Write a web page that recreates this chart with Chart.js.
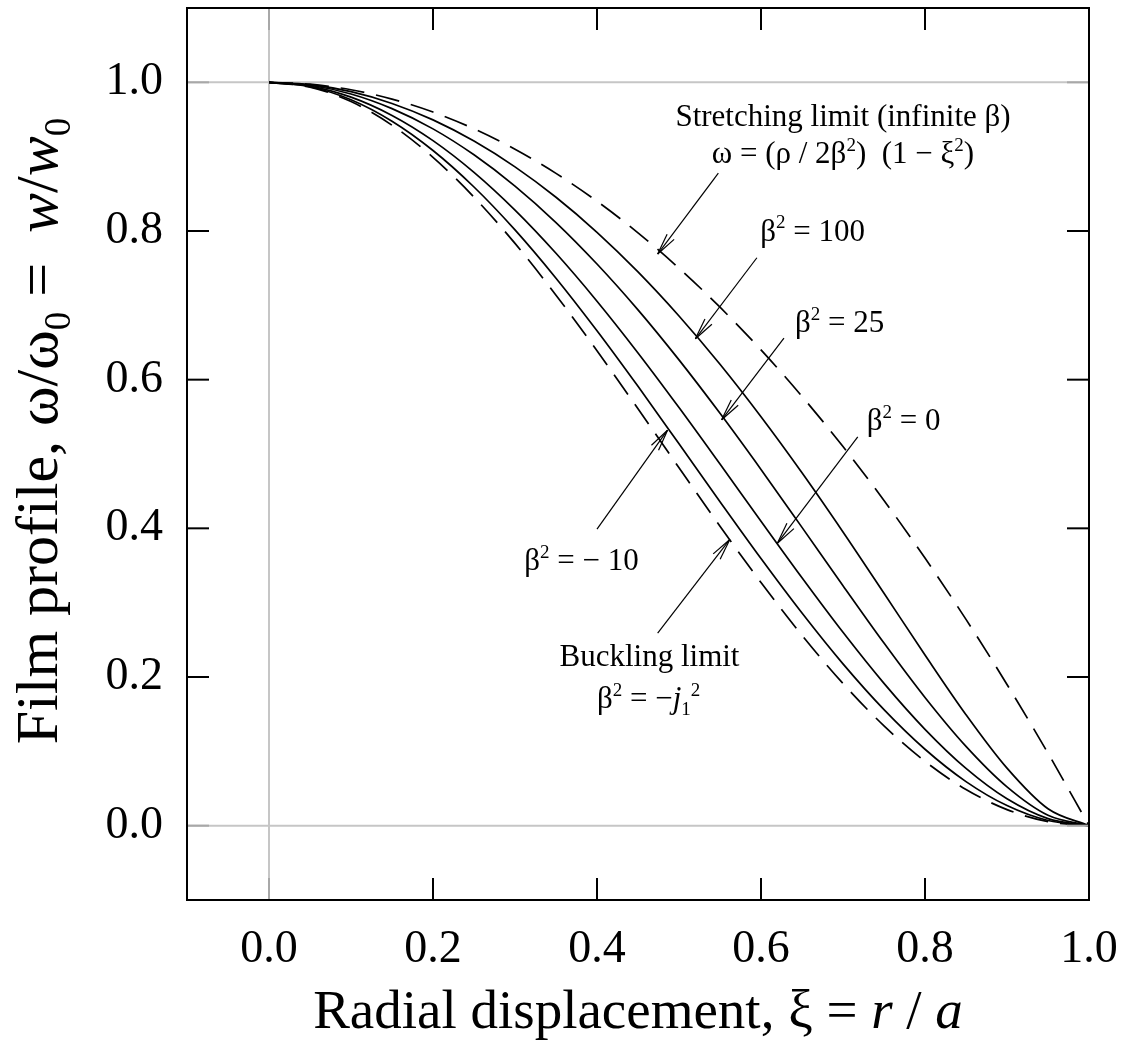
<!DOCTYPE html>
<html>
<head>
<meta charset="utf-8">
<script src="https://cdn.jsdelivr.net/npm/chart.js@4.4.1/dist/chart.umd.min.js"></script>
<style>
  html, body { margin: 0; padding: 0; background: #fff; }
  #wrap { width: 1131px; height: 1044px; position: relative; }
</style>
</head>
<body>
<div id="wrap"><canvas id="profileChart"></canvas></div>
<script>
// radial position xi = r/a
const xi = [0, 0.05, 0.1, 0.15, 0.2, 0.25, 0.3, 0.35, 0.4, 0.45, 0.5,
            0.55, 0.6, 0.65, 0.7, 0.75, 0.8, 0.85, 0.9, 0.95, 1.0];

// normalised film profiles w/w0
const stretching = [1, 0.9975, 0.99, 0.9775, 0.96, 0.9375, 0.91, 0.8775, 0.84, 0.7975, 0.75,
                    0.6975, 0.64, 0.5775, 0.51, 0.4375, 0.36, 0.2775, 0.19, 0.0975, 0];
const beta100 = [1, 0.9968, 0.9874, 0.9716, 0.9495, 0.9210, 0.8863, 0.8454, 0.7983, 0.7450, 0.6857,
                 0.6207, 0.5501, 0.4747, 0.3951, 0.3126, 0.2296, 0.1493, 0.0774, 0.0228, 0];
const beta25 = [1, 0.9961, 0.9843, 0.9646, 0.9374, 0.9025, 0.8604, 0.8114, 0.7556, 0.6939, 0.6266,
                0.5547, 0.4792, 0.4013, 0.3228, 0.2456, 0.1724, 0.1066, 0.0521, 0.0139, 0];
const beta0 = [1, 0.9950, 0.9801, 0.9555, 0.9216, 0.8789, 0.8281, 0.7700, 0.7056, 0.6360, 0.5625,
               0.4865, 0.4096, 0.3335, 0.2601, 0.1914, 0.1296, 0.0770, 0.0361, 0.0095, 0];
const betaMinus10 = [1, 0.9941, 0.9766, 0.9477, 0.9083, 0.8592, 0.8015, 0.7365, 0.6658, 0.5910, 0.5137,
                     0.4359, 0.3594, 0.2861, 0.2177, 0.1561, 0.1028, 0.0593, 0.0270, 0.0069, 0];
const buckling = [1, 0.9935, 0.9741, 0.9423, 0.8991, 0.8456, 0.7833, 0.7137, 0.6389, 0.5608, 0.4815,
                  0.4029, 0.3271, 0.2560, 0.1912, 0.1343, 0.0865, 0.0487, 0.0216, 0.0054, 0];

const xTicks = [0, 0.2, 0.4, 0.6, 0.8, 1.0];
const yTicks = [0, 0.2, 0.4, 0.6, 0.8, 1.0];

const FONT = '"Liberation Serif", "Times New Roman", serif';
Chart.defaults.font.family = FONT;
Chart.defaults.color = '#000';

const pts = ys => xi.map((x, i) => ({ x: x, y: ys[i] }));

function curve(label, ys, dashed) {
  return {
    label: label,
    data: pts(ys),
    borderColor: '#000',
    borderWidth: 1.7,
    borderDash: dashed ? [24, 12] : [],
    pointRadius: 0,
    fill: false,
    cubicInterpolationMode: 'monotone'
  };
}

// --- text with sub/superscripts and italics ---
function runFont(r, size) {
  const s = (r.sup || r.sub) ? Math.round(size * 0.62) : size;
  return (r.italic ? 'italic ' : '') + s + 'px ' + FONT;
}
function drawRich(ctx, runs, x, y, size, align) {
  let total = 0;
  runs.forEach(r => { ctx.font = runFont(r, size); total += ctx.measureText(r.t).width; });
  let cx = align === 'center' ? x - total / 2 : x;
  ctx.textAlign = 'left';
  ctx.textBaseline = 'alphabetic';
  runs.forEach(r => {
    ctx.font = runFont(r, size);
    const dy = r.sup ? -size * 0.4 : (r.sub ? size * 0.22 : 0);
    ctx.fillText(r.t, cx, y + dy);
    cx += ctx.measureText(r.t).width;
  });
}

function seg(ctx, x1, y1, x2, y2) {
  ctx.beginPath(); ctx.moveTo(x1, y1); ctx.lineTo(x2, y2); ctx.stroke();
}

function arrow(ctx, x1, y1, x2, y2) {
  seg(ctx, x1, y1, x2, y2);
  const ang = Math.atan2(y2 - y1, x2 - x1);
  const len = 22, spread = 0.2;
  seg(ctx, x2, y2, x2 - len * Math.cos(ang - spread), y2 - len * Math.sin(ang - spread));
  seg(ctx, x2, y2, x2 - len * Math.cos(ang + spread), y2 - len * Math.sin(ang + spread));
}

// labels on the curves, in data units
const notes = [
  { x: 0.700, y: 0.941, runs: [{ t: 'Stretching limit (infinite β)' }] },
  { x: 0.700, y: 0.891, runs: [{ t: 'ω = (ρ / 2β' }, { t: '2', sup: true }, { t: ')  (1 − ξ' }, { t: '2', sup: true }, { t: ')' }] },
  { x: 0.663, y: 0.787, runs: [{ t: 'β' }, { t: '2', sup: true }, { t: ' = 100' }] },
  { x: 0.696, y: 0.664, runs: [{ t: 'β' }, { t: '2', sup: true }, { t: ' = 25' }] },
  { x: 0.774, y: 0.532, runs: [{ t: 'β' }, { t: '2', sup: true }, { t: ' = 0' }] },
  { x: 0.381, y: 0.344, runs: [{ t: 'β' }, { t: '2', sup: true }, { t: ' = − 10' }] },
  { x: 0.464, y: 0.215, runs: [{ t: 'Buckling limit' }] },
  { x: 0.463, y: 0.158, runs: [{ t: 'β' }, { t: '2', sup: true }, { t: ' = −' }, { t: 'j', italic: true }, { t: '1', sub: true }, { t: '2', sup: true }] }
];
const arrows = [
  [0.548, 0.878, 0.474, 0.769],
  [0.595, 0.764, 0.520, 0.655],
  [0.628, 0.656, 0.552, 0.546],
  [0.718, 0.523, 0.620, 0.380],
  [0.400, 0.399, 0.486, 0.532],
  [0.474, 0.259, 0.562, 0.385]
];

const decorations = {
  id: 'decorations',
  beforeDatasetsDraw(chart) {
    const { ctx, chartArea: a, scales: { x, y } } = chart;
    ctx.save();
    ctx.strokeStyle = '#c6c6c6';
    ctx.lineWidth = 2;
    [0, 1].forEach(v => { const py = y.getPixelForValue(v); seg(ctx, a.left, py, a.right, py); });
    const px0 = x.getPixelForValue(0);
    seg(ctx, px0, a.top, px0, a.bottom);
    ctx.restore();
  },
  afterDatasetsDraw(chart) {
    const { ctx, chartArea: a, scales: { x, y } } = chart;
    ctx.save();
    // inner tick marks on all four sides
    const tl = 22;
    ctx.lineWidth = 2;
    xTicks.forEach(v => {
      if (v >= 1) return;
      const px = x.getPixelForValue(v);
      ctx.strokeStyle = v === 0 ? '#a8a8a8' : '#000';
      seg(ctx, px, a.bottom, px, a.bottom - tl);
      seg(ctx, px, a.top, px, a.top + tl);
    });
    yTicks.forEach(v => {
      const py = y.getPixelForValue(v);
      ctx.strokeStyle = (v === 0 || v === 1) ? '#a8a8a8' : '#000';
      seg(ctx, a.left, py, a.left + tl, py);
      seg(ctx, a.right, py, a.right - tl, py);
    });
    // frame
    ctx.strokeStyle = '#000';
    ctx.lineWidth = 2;
    ctx.strokeRect(a.left, a.top, a.right - a.left, a.bottom - a.top);

    // annotations
    ctx.fillStyle = '#000';
    ctx.lineWidth = 1.2;
    arrows.forEach(([x1, y1, x2, y2]) => {
      arrow(ctx, x.getPixelForValue(x1), y.getPixelForValue(y1),
                 x.getPixelForValue(x2), y.getPixelForValue(y2));
    });
    notes.forEach(n => {
      drawRich(ctx, n.runs, x.getPixelForValue(n.x), y.getPixelForValue(n.y), 31, 'center');
    });
    ctx.restore();
  },
  afterDraw(chart) {
    const { ctx, chartArea: a } = chart;
    ctx.save();
    ctx.fillStyle = '#000';
    // x axis title
    drawRich(ctx, [{ t: 'Radial displacement, ξ = ' }, { t: 'r', italic: true }, { t: ' / ' }, { t: 'a', italic: true }],
             (a.left + a.right) / 2, 1028, 55, 'center');
    // y axis title, rotated
    ctx.translate(57, 431);
    ctx.rotate(-Math.PI / 2);
    drawRich(ctx, [{ t: 'Film profile, ω/ω' }, { t: '0', sub: true }, { t: ' =  ' },
                   { t: 'w', italic: true }, { t: '/' }, { t: 'w', italic: true }, { t: '0', sub: true }],
             0, 0, 60, 'center');
    ctx.restore();
  }
};

const ctx = document.getElementById('profileChart').getContext('2d');

const profileChart = new Chart(ctx, {
  type: 'line',
  data: {
    datasets: [
      curve('Stretching limit', stretching, true),
      curve('β² = 100', beta100, false),
      curve('β² = 25', beta25, false),
      curve('β² = 0', beta0, false),
      curve('β² = −10', betaMinus10, false),
      curve('Buckling limit', buckling, true)
    ]
  },
  options: {
    responsive: true,
    maintainAspectRatio: false,
    animation: false,
    layout: { padding: { left: 0, top: 8, right: 42, bottom: 0 } },
    plugins: {
      legend: { display: false },
      tooltip: { enabled: false }
    },
    scales: {
      x: {
        type: 'linear',
        min: -0.1,
        max: 1.0,
        grid: { display: false, drawTicks: false },
        border: { display: false },
        afterBuildTicks: s => { s.ticks = xTicks.map(v => ({ value: v })); },
        afterFit: s => { s.height = 144; s.paddingLeft = 0; s.paddingRight = 0; },
        ticks: {
          padding: 22,
          maxRotation: 0,
          font: { size: 46 },
          callback: v => v.toFixed(1)
        }
      },
      y: {
        type: 'linear',
        min: -0.1,
        max: 1.1,
        grid: { display: false, drawTicks: false },
        border: { display: false },
        afterBuildTicks: s => { s.ticks = yTicks.map(v => ({ value: v })); },
        afterFit: s => { s.width = 187; s.paddingTop = 0; s.paddingBottom = 0; },
        ticks: {
          padding: 24,
          font: { size: 46 },
          callback: v => v.toFixed(1)
        }
      }
    }
  },
  plugins: [decorations]
});
</script>
</body>
</html>
